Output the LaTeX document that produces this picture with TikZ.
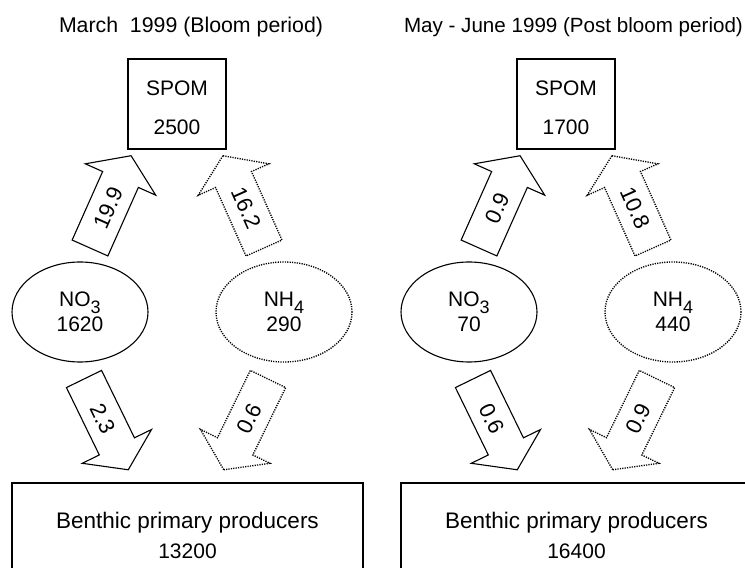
\documentclass[tikz,border=0pt]{standalone}
\usepackage{fontspec}
\setmainfont{Liberation Sans}
\usetikzlibrary{shapes.geometric,shapes.arrows}
\newcommand{\ionsub}[1]{\raisebox{-6.5pt}{\fontsize{18}{18}\selectfont #1}}

\begin{document}
\begin{tikzpicture}[
    x=1pt, y=1pt,
    every node/.style={font=\fontsize{21}{25}\selectfont, inner sep=0pt, outer sep=0pt},
    dotline/.style={line width=1.35pt, dash pattern=on 1.2pt off 1.2pt},
    pool/.style={draw, line width=2pt, minimum width=98pt, minimum height=90pt, align=center},
    prod/.style={draw, line width=2.6pt, minimum width=351pt, minimum height=104pt, align=center},
    nit/.style={ellipse, draw, line width=1.1pt, minimum width=136pt, minimum height=100pt, align=center},
    amm/.style={nit, dotline},
    flux/.style={single arrow, draw, line width=1.1pt, anchor=tail, minimum height=101pt,
        font=\fontsize{22}{25}\selectfont,
        single arrow head extend=19pt, single arrow tip angle=112,
        text height=15.6pt, text depth=0pt, inner xsep=0pt, inner ysep=11.2pt},
    dflux/.style={flux, dotline, shape border rotate=180}
]
\useasboundingbox (0,0) rectangle (745,568);
\clip (0,0) rectangle (745,568);

% March 1999
\node[anchor=base west, font=\fontsize{21.3}{25}\selectfont] (titleA) at (59,535) {March~~1999 (Bloom period)};
\node[pool] (spomA) at (177,464) {\rule{0pt}{22pt}SPOM\\[14pt]2500};
\node[nit] (nitA) at (80,256) {NO\ionsub{3}\\1620};
\node[amm] (ammA) at (284,256) {NH\ionsub{4}\\290};
\node[prod] (benA) at (187.5,33) {{\fontsize{22.5}{25}\selectfont Benthic primary producers}\\[5pt]13200};
\node[flux, rotate=66] (upnitA) at (90,320) {19.9};
\node[dflux, rotate=-66] (upammA) at (264,320) {16.2};
\node[flux, rotate=-64] (dnnitA) at (84,189) {2.3};
\node[dflux, rotate=64] (dnammA) at (268,189) {0.6};

% May - June 1999
\node[anchor=base west, font=\fontsize{20.6}{25}\selectfont] (titleB) at (404,535) {May - June 1999 (Post bloom period)};
\node[pool] (spomB) at (566,464) {\rule{0pt}{22pt}SPOM\\[14pt]1700};
\node[nit] (nitB) at (469,256) {NO\ionsub{3}\\70};
\node[amm] (ammB) at (673,256) {NH\ionsub{4}\\440};
\node[prod] (benB) at (576.5,33) {{\fontsize{22.5}{25}\selectfont Benthic primary producers}\\[5pt]16400};
\node[flux, rotate=66] (upnitB) at (479,320) {0.9};
\node[dflux, rotate=-66] (upammB) at (653,320) {10.8};
\node[flux, rotate=-64] (dnnitB) at (473,189) {0.6};
\node[dflux, rotate=64] (dnammB) at (657,189) {0.9};
\end{tikzpicture}
\end{document}
